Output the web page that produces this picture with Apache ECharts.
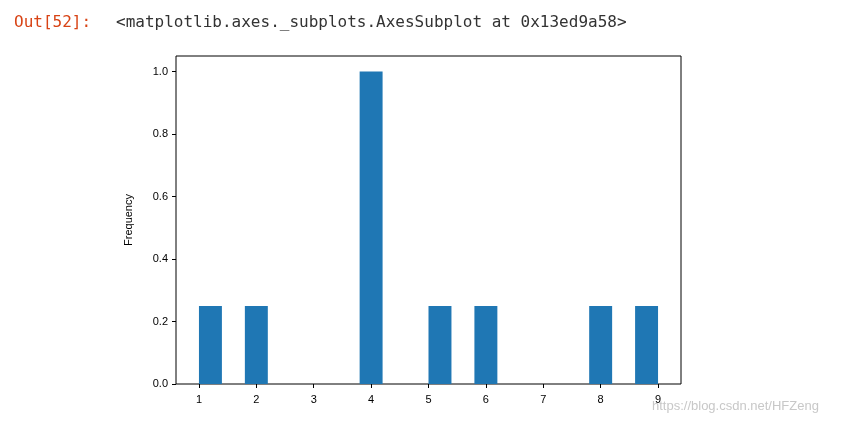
<!DOCTYPE html>
<html>
<head>
    <script src="https://cdn.jsdelivr.net/npm/echarts@6/dist/echarts.min.js"></script>
</head>
<body style="margin:0;background:#fff">
    <div id="chart" style="width: 864px; height: 423px;"></div>
    <script>
        // histogram bins (left edge, right edge) and density height
        var binStart = [1.0, 1.8, 3.8, 5.0, 5.8, 7.8, 8.6];
        var binEnd   = [1.4, 2.2, 4.2, 5.4, 6.2, 8.2, 9.0];
        var density  = [0.25, 0.25, 1.0, 0.25, 0.25, 0.25, 0.25];
        var xTicks = [1, 2, 3, 4, 5, 6, 7, 8, 9];

        var chart = echarts.init(document.querySelector("#chart"));
        var data = binStart.map(function (s, i) { return [s, binEnd[i], density[i]]; });

        var option = {
          animation: false,
          graphic: [
            { type: 'text', left: 14, top: 8, style: { text: 'Out[52]:', fill: '#d84315', font: '16px "DejaVu Sans Mono", monospace' } },
            { type: 'text', left: 116, top: 8, style: { text: '<matplotlib.axes._subplots.AxesSubplot at 0x13ed9a58>', fill: '#333', font: '16px "DejaVu Sans Mono", monospace' } },
            { type: 'text', left: 652, top: 395, style: { text: 'https://blog.csdn.net/HFZeng', fill: '#c8c8c8', font: '13px "Liberation Sans", sans-serif' } }
          ],
          grid: { left: 176, right: 183, top: 56, bottom: 39, show: true, borderColor: '#000', borderWidth: 1 },
          xAxis: {
            type: 'value', min: 0.6, max: 9.4, interval: 1,
            splitLine: { show: false },
            axisLine: { show: false },
            axisTick: { show: true, customValues: xTicks, length: 4, lineStyle: { color: '#000' } },
            axisLabel: { customValues: xTicks, color: '#000', fontSize: 11, margin: 6 }
          },
          yAxis: {
            type: 'value', min: 0, max: 1.05, interval: 0.2,
            name: 'Frequency', nameLocation: 'middle', nameGap: 38, nameRotate: 90,
            nameTextStyle: { color: '#000', fontSize: 11 },
            splitLine: { show: false },
            axisLine: { show: false },
            axisTick: { show: true, length: 4, lineStyle: { color: '#000' } },
            axisLabel: { color: '#000', fontSize: 11, margin: 8, formatter: function (v) { return v.toFixed(1); } }
          },
          series: [{
            type: 'custom',
            data: data,
            encode: { x: [0, 1], y: 2 },
            renderItem: function (params, api) {
              var p0 = api.coord([api.value(0), 0]);
              var p1 = api.coord([api.value(1), api.value(2)]);
              return { type: 'rect', shape: { x: p0[0], y: p1[1], width: p1[0] - p0[0], height: p0[1] - p1[1] }, style: { fill: '#1f77b4' } };
            }
          }]
        };
        chart.setOption(option);
    </script>
</body>
</html>
